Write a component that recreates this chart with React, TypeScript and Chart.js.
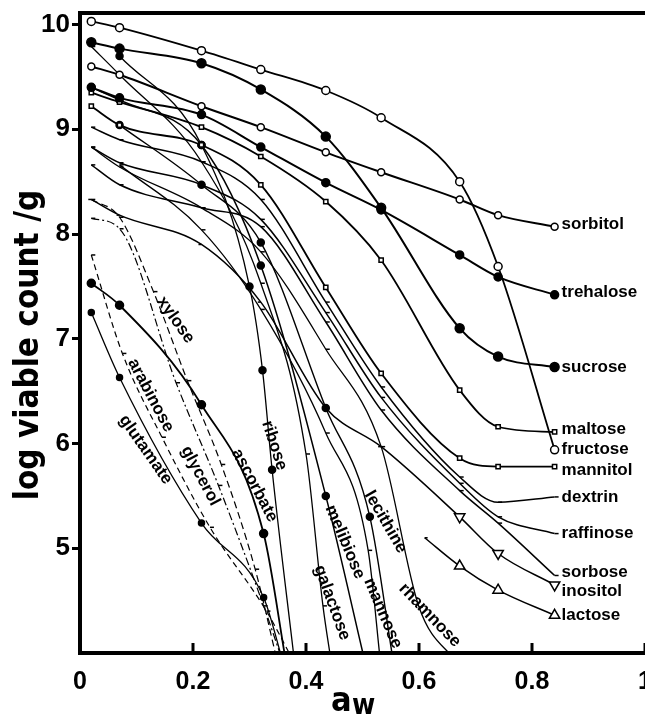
import React, { useEffect, useRef } from 'react';
import { Chart, registerables } from 'chart.js';
Chart.register(...registerables);

// ---- data (a_w vs log viable count / g) ----
const AW = [0.02, 0.07, 0.215, 0.32, 0.435, 0.533, 0.672, 0.74, 0.84];
const fructoseY = [10.03, 9.97, 9.75, 9.57, 9.37, 9.11, 8.5, 7.69, 5.94];
const sucroseY = [9.83, 9.77, 9.63, 9.38, 8.93, 8.25, 7.1, 6.83, 6.73];
const sorbitolY = [9.6, 9.52, 9.22, 9.02, 8.78, 8.59, 8.33, 8.18, 8.07];
const trehaloseY = [9.4, 9.3, 9.14, 8.83, 8.49, 8.23, 7.8, 7.59, 7.42];
const maltoseY = [9.35, 9.26, 9.02, 8.74, 8.31, 7.75, 6.51, 6.16, 6.11];
const mannitolY = [9.22, 9.04, 8.85, 8.47, 7.49, 6.67, 5.86, 5.78, 5.78];
const dextrinY = [9.02, 8.9, 8.69, 8.33, 7.35, 6.54, 5.68, 5.44, 5.49];
const raffinoseY = [8.83, 8.68, 8.47, 8.14, 7.25, 6.44, 5.62, 5.3, 5.14];
const sorboseY = [8.66, 8.47, 8.25, 8.07, 7.16, 6.32, 5.55, 5.24, 4.74];
const inositolY = [8.33, 8.18, 7.9, 7.35, 6.34, 5.97, 5.3, 4.95, 4.65];
const lactoseX = [0.61, 0.672, 0.74, 0.84];
const lactoseY = [5.1, 4.83, 4.6, 4.36];

const xyloseX = [0.02, 0.07, 0.13, 0.19, 0.25, 0.31, 0.35];
const xyloseY = [8.33, 8.16, 7.45, 6.6, 5.8, 4.8, 3.9];
const arabinoseX = [0.02, 0.075, 0.145, 0.23, 0.33, 0.38];
const arabinoseY = [7.8, 6.86, 6.06, 5.2, 4.4, 3.9];
const glutamateX = [0.02, 0.07, 0.215, 0.325, 0.36];
const glutamateY = [7.25, 6.63, 5.24, 4.53, 3.9];
const glycerolX = [0.02, 0.07, 0.17, 0.245, 0.325, 0.36];
const glycerolY = [8.15, 8.05, 6.58, 5.6, 4.45, 3.9];
const ascorbateX = [0.02, 0.07, 0.215, 0.325, 0.365];
const ascorbateY = [7.53, 7.32, 6.37, 5.14, 3.9];
const riboseX = [0.07, 0.215, 0.3, 0.323, 0.34, 0.38];
const riboseY = [9.7, 8.85, 7.5, 6.7, 5.75, 3.9];
const melibioseX = [0.02, 0.07, 0.215, 0.32, 0.435, 0.505];
const melibioseY = [9.4, 9.28, 8.85, 7.7, 5.5, 3.9];
const galactoseX = [0.02, 0.07, 0.215, 0.32, 0.4, 0.43, 0.445];
const galactoseY = [9.79, 9.52, 8.69, 7.53, 5.9, 4.45, 3.9];
const lecithineX = [0.07, 0.215, 0.32, 0.435, 0.513, 0.555];
const lecithineY = [9.04, 8.47, 7.92, 6.34, 5.3, 3.9];
const mannoseX = [0.07, 0.215, 0.32, 0.435, 0.51, 0.532];
const mannoseY = [8.66, 8.04, 7.28, 6.1, 4.98, 3.9];
const rhamnoseX = [0.02, 0.07, 0.215, 0.32, 0.435, 0.533, 0.6, 0.668];
const rhamnoseY = [8.83, 8.64, 8.25, 7.83, 6.9, 5.97, 4.44, 3.9];

const X_TICKS = [0, 0.2, 0.4, 0.6, 0.8, 1];
const Y_TICKS = [5, 6, 7, 8, 9, 10];

// in-plot rotated labels: [text, aw, log count, angle deg]
const IN_LABELS: [string, number, number, number][] = [
  ['xylose', 0.169, 7.18, 55],
  ['arabinose', 0.125, 6.46, 62],
  ['glutamate', 0.116, 5.94, 55],
  ['glycerol', 0.213, 5.69, 62],
  ['ribose', 0.344, 5.98, 72],
  ['ascorbate', 0.309, 5.6, 62],
  ['melibiose', 0.469, 5.06, 67],
  ['galactose', 0.446, 4.48, 70],
  ['lecithine', 0.541, 5.25, 60],
  ['mannose', 0.536, 4.38, 67],
  ['rhamnose', 0.619, 4.36, 46],
];

const FONT = '"Liberation Sans", Arial, sans-serif';
const TFONT = '"DejaVu Sans Condensed", "DejaVu Sans", sans-serif';

type S = {
  name: string; xs: number[]; ys: number[];
  style: string; r: number; fill: boolean; w: number; dash?: number[]; rot?: number; ldy?: number; label?: boolean; firstBig?: number;
};

const SERIES: S[] = [
  { name: 'fructose', xs: AW, ys: fructoseY, style: 'circle', r: 4, fill: false, w: 1.8, label: true },
  { name: 'sucrose', xs: AW, ys: sucroseY, style: 'circle', r: 4.5, fill: true, w: 2, label: true },
  { name: 'sorbitol', xs: AW, ys: sorbitolY, style: 'circle', r: 3.5, fill: false, w: 2, label: true, ldy: -2 },
  { name: 'trehalose', xs: AW, ys: trehaloseY, style: 'circle', r: 4, fill: true, w: 2, label: true, ldy: -2 },
  { name: 'maltose', xs: AW, ys: maltoseY, style: 'rect', r: 3, fill: false, w: 1.8, label: true, ldy: -3 },
  { name: 'mannitol', xs: AW, ys: mannitolY, style: 'rect', r: 3, fill: false, w: 1.8, label: true, ldy: 4 },
  { name: 'dextrin', xs: AW, ys: dextrinY, style: 'dash', r: 4, fill: false, w: 1.5, label: true },
  { name: 'raffinose', xs: AW, ys: raffinoseY, style: 'dash', r: 4, fill: false, w: 1.5, label: true },
  { name: 'sorbose', xs: AW, ys: sorboseY, style: 'dash', r: 4, fill: false, w: 1.5, label: true, ldy: -3 },
  { name: 'inositol', xs: AW, ys: inositolY, style: 'triangle', r: 6, fill: false, w: 1.5, rot: 180, label: true, ldy: 6, firstBig: 6 },
  { name: 'lactose', xs: lactoseX, ys: lactoseY, style: 'triangle', r: 6, fill: false, w: 1.5, label: true, firstBig: 1 },
  { name: 'xylose', xs: xyloseX, ys: xyloseY, style: 'dash', r: 4, fill: false, w: 1.2, dash: [7, 4] },
  { name: 'arabinose', xs: arabinoseX, ys: arabinoseY, style: 'dash', r: 4, fill: false, w: 1.2, dash: [6, 4] },
  { name: 'glutamate', xs: glutamateX, ys: glutamateY, style: 'circle', r: 3, fill: true, w: 1.3 },
  { name: 'glycerol', xs: glycerolX, ys: glycerolY, style: 'dash', r: 4, fill: false, w: 1.2, dash: [8, 3, 2, 3] },
  { name: 'ascorbate', xs: ascorbateX, ys: ascorbateY, style: 'circle', r: 4, fill: true, w: 1.8 },
  { name: 'ribose', xs: riboseX, ys: riboseY, style: 'circle', r: 3.5, fill: true, w: 1.3 },
  { name: 'melibiose', xs: melibioseX, ys: melibioseY, style: 'circle', r: 3.5, fill: true, w: 1.5 },
  { name: 'galactose', xs: galactoseX, ys: galactoseY, style: 'dash', r: 4, fill: false, w: 1.3 },
  { name: 'lecithine', xs: lecithineX, ys: lecithineY, style: 'circle', r: 3.5, fill: true, w: 1.4 },
  { name: 'mannose', xs: mannoseX, ys: mannoseY, style: 'dash', r: 4, fill: false, w: 1.3 },
  { name: 'rhamnose', xs: rhamnoseX, ys: rhamnoseY, style: 'dash', r: 4, fill: false, w: 1.3 },
];

const decor = {
  id: 'decor',
  afterDraw(chart: any) {
    const { ctx, chartArea: a, scales } = chart;
    const xs = scales.x, ys = scales.y;
    ctx.save();
    ctx.fillStyle = '#000';
    ctx.strokeStyle = '#000';
    // top frame
    ctx.lineWidth = 4;
    ctx.beginPath(); ctx.moveTo(a.left - 2, a.top); ctx.lineTo(chart.width, a.top); ctx.stroke();
    // inward x ticks
    ctx.lineWidth = 3;
    X_TICKS.forEach(v => {
      const px = xs.getPixelForValue(v);
      ctx.beginPath(); ctx.moveTo(px, a.bottom); ctx.lineTo(px, a.bottom - 10); ctx.stroke();
    });
    // right-hand labels
    ctx.font = `bold 17px ${FONT}`;
    ctx.textBaseline = 'middle';
    ctx.textAlign = 'left';
    SERIES.filter(s => s.label).forEach(s => {
      const n = s.xs.length - 1;
      ctx.fillText(s.name, xs.getPixelForValue(s.xs[n]) + 7, ys.getPixelForValue(s.ys[n]) + (s.ldy || 0));
    });
    // in-plot rotated labels
    ctx.textAlign = 'center';
    IN_LABELS.forEach(([t, x, y, ang]) => {
      ctx.save();
      ctx.translate(xs.getPixelForValue(x), ys.getPixelForValue(y));
      ctx.rotate((ang * Math.PI) / 180);
      ctx.fillText(t, 0, 0);
      ctx.restore();
    });
    // y title
    ctx.save();
    ctx.translate(29, 345);
    ctx.rotate(-Math.PI / 2);
    ctx.font = `bold 33px ${TFONT}`;
    ctx.textAlign = 'center';
    ctx.textBaseline = 'middle';
    ctx.fillText('log viable count /g', 0, 0);
    ctx.restore();
    // x title a_w
    ctx.font = `bold 34px ${TFONT}`;
    ctx.textAlign = 'left';
    ctx.textBaseline = 'alphabetic';
    ctx.fillText('a', 331, 711);
    ctx.font = `bold 28px ${TFONT}`;
    ctx.fillText('w', 352, 714);
    ctx.restore();
  },
};

export default function App() {
  const ref = useRef<HTMLCanvasElement>(null);
  useEffect(() => {
    document.body.style.margin = '0';
    const datasets = SERIES.map(s => ({
      label: s.name,
      data: s.xs.map((x, i) => ({ x, y: s.ys[i] })),
      borderColor: '#000',
      borderWidth: s.w,
      borderDash: s.dash || [],
      backgroundColor: s.fill ? '#000' : '#fff',
      pointStyle: s.ys.map((_, i) => (s.firstBig !== undefined && i < s.firstBig ? 'dash' : s.style)),
      pointRadius: s.ys.map((y, i) => (y < 4 ? 0 : s.firstBig !== undefined && i < s.firstBig ? 3 : s.r)),
      pointBorderWidth: 1.5,
      pointBorderColor: '#000',
      pointBackgroundColor: s.fill ? '#000' : '#fff',
      pointRotation: s.rot || 0,
      cubicInterpolationMode: 'monotone' as const,
      showLine: true,
      fill: false,
    }));
    const chart = new Chart(ref.current!, {
      type: 'scatter',
      data: { datasets },
      options: {
        responsive: false,
        animation: false,
        devicePixelRatio: 1,
        layout: { autoPadding: false, padding: { top: 13, right: 0, left: 0, bottom: 0 } },
        plugins: { legend: { display: false }, tooltip: { enabled: false } },
        scales: {
          x: {
            type: 'linear', min: 0, max: 1,
            afterBuildTicks: (s: any) => { s.ticks = X_TICKS.map(v => ({ value: v })); },
            afterFit: (s: any) => { s.height = 64; s.paddingLeft = 0; s.paddingRight = 0; },
            grid: { display: false },
            border: { display: true, width: 4, color: '#000' },
            ticks: {
              color: '#000', padding: 6, maxRotation: 0, autoSkip: false,
              font: { family: FONT, weight: 'bold', size: 25 },
              callback: (v: any) => (v === 0 || v === 1 ? String(v) : Number(v).toFixed(1)),
            },
          },
          y: {
            type: 'linear', min: 4, max: 10.11,
            afterBuildTicks: (s: any) => { s.ticks = Y_TICKS.map(v => ({ value: v })); },
            afterFit: (s: any) => { s.width = 80; s.paddingTop = 0; s.paddingBottom = 0; },
            grid: { display: true, drawOnChartArea: false, drawTicks: true, tickLength: 8, tickWidth: 3, color: '#000' },
            border: { display: true, width: 4, color: '#000' },
            ticks: {
              color: '#000', padding: 2, autoSkip: false,
              font: { family: FONT, weight: 'bold', size: 26 },
            },
          },
        },
      },
      plugins: [decor],
    });
    return () => chart.destroy();
  }, []);
  return (
    <div style={{ width: 645, height: 717, background: '#fff' }}>
      <canvas ref={ref} width={645} height={717} />
    </div>
  );
}
